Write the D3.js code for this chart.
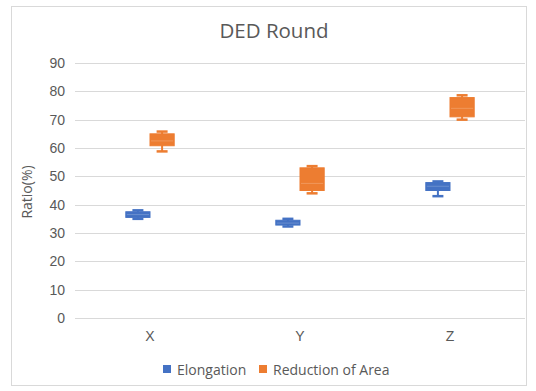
<!DOCTYPE html>
<html>
<head>
<meta charset="utf-8">
<script src="https://cdn.jsdelivr.net/npm/d3@7/dist/d3.min.js"></script>
<style>
  html, body { margin: 0; padding: 0; background: #fff; }
  svg { display: block; font-family: "Open Sans", "Liberation Sans", sans-serif; }
</style>
</head>
<body>
<svg id="chart" width="536" height="391"></svg>
<script>
// Categories and box-plot statistics (min, Q1, median, Q3, max) per series
const categories = ["X", "Y", "Z"];
const seriesNames = ["Elongation", "Reduction of Area"];
const seriesColors = ["#4472C4", "#ED7D31"];

const elongationMin    = [35.0, 32.3, 43.0];
const elongationQ1     = [35.5, 32.8, 45.0];
const elongationMedian = [36.5, 33.5, 46.5];
const elongationQ3     = [37.5, 34.5, 47.8];
const elongationMax    = [38.0, 35.0, 48.2];

const reductionMin     = [58.8, 44.0, 70.0];
const reductionQ1      = [60.8, 45.0, 71.0];
const reductionMedian  = [62.5, 47.5, 74.0];
const reductionQ3      = [65.0, 53.0, 77.8];
const reductionMax     = [65.8, 53.6, 78.6];

const yTicks = [0, 10, 20, 30, 40, 50, 60, 70, 80, 90];

const series = [
  { name: seriesNames[0], color: seriesColors[0],
    min: elongationMin, q1: elongationQ1, med: elongationMedian, q3: elongationQ3, max: elongationMax },
  { name: seriesNames[1], color: seriesColors[1],
    min: reductionMin, q1: reductionQ1, med: reductionMedian, q3: reductionQ3, max: reductionMax }
];

const svg = d3.select("#chart");
const plot = { left: 75, right: 525, top: 63, bottom: 318 };

// Chart frame
svg.append("rect")
  .attr("x", 11.5).attr("y", 6.5).attr("width", 515).attr("height", 379)
  .attr("fill", "#fff").attr("stroke", "#D9D9D9").attr("stroke-width", 1);

const x = d3.scaleBand().domain(categories).range([plot.left, plot.right]);
const xInner = d3.scaleBand().domain(seriesNames).range([0, x.bandwidth()])
  .paddingOuter(2.1).paddingInner(0);
const y = d3.scaleLinear().domain([0, 90]).range([plot.bottom, plot.top]);

// Gridlines
svg.append("g").selectAll("line").data(yTicks).join("line")
  .attr("x1", plot.left).attr("x2", plot.right)
  .attr("y1", d => Math.round(y(d)) + 0.5).attr("y2", d => Math.round(y(d)) + 0.5)
  .attr("stroke", "#D9D9D9").attr("stroke-width", 1);

// Y axis labels
const gy = svg.append("g").attr("transform", `translate(${plot.left},0)`)
  .call(d3.axisLeft(y).tickValues(yTicks).tickSize(0).tickPadding(10));
gy.select(".domain").remove();
gy.selectAll("text").attr("fill", "#595959").style("font-size", "14px");

// X axis labels
const gx = svg.append("g").attr("transform", `translate(0,${plot.bottom})`)
  .call(d3.axisBottom(x).tickSize(0).tickPadding(13));
gx.select(".domain").remove();
gx.selectAll("text").attr("fill", "#595959").style("font-size", "14px");

// Title
svg.append("text").attr("x", 274).attr("y", 38).attr("text-anchor", "middle")
  .attr("fill", "#595959").style("font-size", "20.5px").text("DED Round");

// Y axis title
svg.append("text").attr("transform", "translate(32,192) rotate(-90)")
  .attr("text-anchor", "middle").attr("fill", "#595959").style("font-size", "14px")
  .text("Ratio(%)");

// Box plots: whisker stem, caps, box, faint median line
const boxW = xInner.bandwidth();
const capW = 11;
series.forEach(s => {
  const g = svg.append("g");
  categories.forEach((c, i) => {
    const cx = x(c) + xInner(s.name) + boxW / 2;
    g.append("line").attr("x1", cx).attr("x2", cx)
      .attr("y1", y(s.max[i])).attr("y2", y(s.min[i]))
      .attr("stroke", s.color).attr("stroke-width", 2);
    [s.min[i], s.max[i]].forEach(v => {
      g.append("line").attr("x1", cx - capW / 2).attr("x2", cx + capW / 2)
        .attr("y1", y(v)).attr("y2", y(v))
        .attr("stroke", s.color).attr("stroke-width", 2.5);
    });
    g.append("rect")
      .attr("x", cx - boxW / 2).attr("width", boxW)
      .attr("y", y(s.q3[i])).attr("height", y(s.q1[i]) - y(s.q3[i]))
      .attr("fill", s.color).attr("stroke", s.color).attr("stroke-width", 1);
    g.append("line").attr("x1", cx - boxW / 2 + 1).attr("x2", cx + boxW / 2 - 1)
      .attr("y1", y(s.med[i])).attr("y2", y(s.med[i]))
      .attr("stroke", "#ffffff").attr("stroke-opacity", 0.2).attr("stroke-width", 1);
  });
});

// Legend
const legend = svg.append("g").attr("transform", "translate(163,365)");
const legendOffsets = [0, 96];
seriesNames.forEach((name, i) => {
  legend.append("rect").attr("x", legendOffsets[i]).attr("y", 0)
    .attr("width", 8).attr("height", 8).attr("fill", seriesColors[i]);
  legend.append("text").attr("x", legendOffsets[i] + 14).attr("y", 9.5)
    .attr("fill", "#595959").style("font-size", "14px").text(name);
});
</script>
</body>
</html>
